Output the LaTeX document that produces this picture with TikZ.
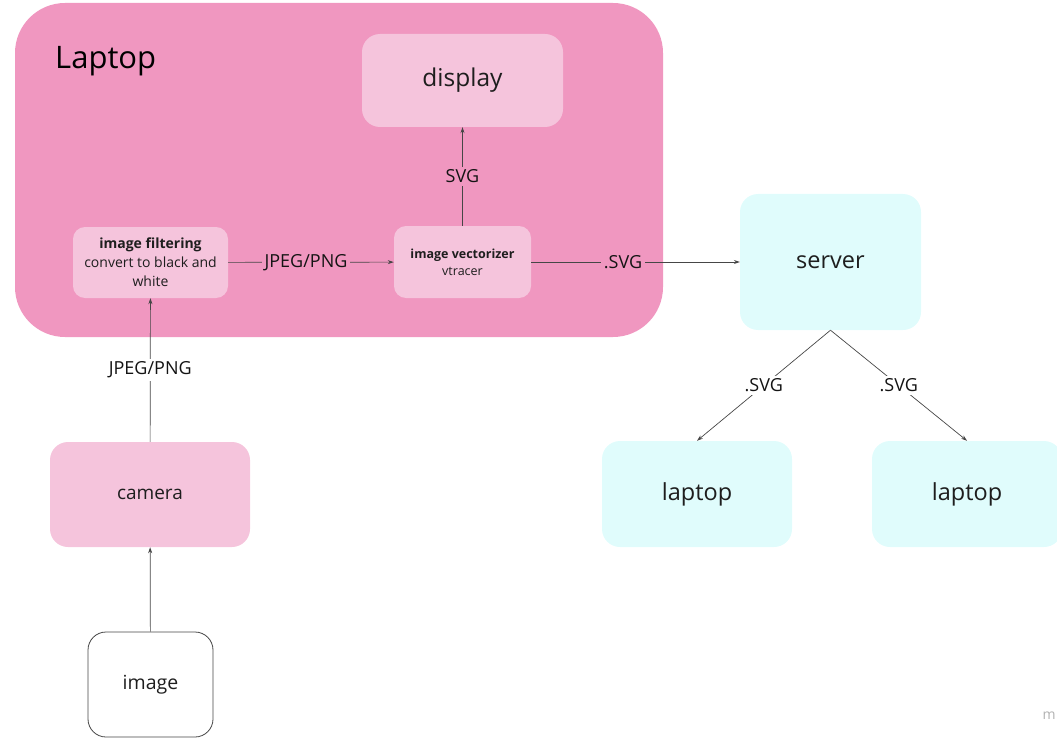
\documentclass[tikz,border=0pt]{standalone}
\usepackage{fontspec}
\setmainfont{Open Sans}
\usetikzlibrary{arrows.meta}

\definecolor{zonepink}{RGB}{240,151,192}
\definecolor{boxpink}{RGB}{245,196,220}
\definecolor{boxcyan}{RGB}{224,252,252}
\definecolor{linegray}{RGB}{70,70,70}

\begin{document}
\begin{tikzpicture}[x=1pt,y=1pt,yscale=-1,
  box/.style={rectangle,rounded corners=18pt,inner sep=0pt,align=center,text={rgb,255:red,30;green,30;blue,30}},
  conn/.style={draw=linegray,line width=0.7pt,-{Stealth[length=6pt,width=4pt]}},
  lbl/.style={inner sep=3pt,font=\fontsize{18}{21}\selectfont,text={rgb,255:red,20;green,20;blue,20}}]
\useasboundingbox (0,0) rectangle (1057,738);

%Laptop area
\node [box, rounded corners=50pt, fill=zonepink, minimum width=648pt, minimum height=334pt] (zone) at (339,170) {};
\node [anchor=west, inner sep=0pt, font=\fontsize{31}{36}\selectfont] (zonetitle) at (55,61) {Laptop};

%Rounded Rect
\node [box, fill=boxpink, minimum width=201pt, minimum height=93pt, font=\fontsize{24.5}{29}\selectfont] (display) at (462.5,80.5) {display};
\node [box, rounded corners=12pt, fill=boxpink, minimum width=155pt, minimum height=71pt, font=\fontsize{14}{19}\selectfont] (filter) at (150.5,262.5) {\textbf{image filtering}\\convert to black and\\white};
\node [box, rounded corners=12pt, fill=boxpink, minimum width=137pt, minimum height=72pt, font=\fontsize{12.5}{17}\selectfont] (vector) at (462.5,262) {\textbf{image vectorizer}\\vtracer};
\node [box, fill=boxpink, minimum width=200pt, minimum height=105pt, font=\fontsize{19}{23}\selectfont] (camera) at (150,494.5) {camera};
\node [box, draw=linegray, line width=0.8pt, fill=white, minimum width=125pt, minimum height=105pt, font=\fontsize{19.5}{23}\selectfont] (image) at (150.5,684.5) {image};

\node [box, fill=boxcyan, minimum width=181pt, minimum height=136pt, font=\fontsize{23.5}{28}\selectfont] (server) at (830.5,262) {server};
\node [box, fill=boxcyan, minimum width=190pt, minimum height=106pt, font=\fontsize{23.5}{28}\selectfont] (laptopa) at (697,494) {laptop};
\node [box, fill=boxcyan, minimum width=190pt, minimum height=106pt, font=\fontsize{23.5}{28}\selectfont] (laptopb) at (967,494) {laptop};

%Connectors
\draw [conn] (image) -- (camera);
\draw [conn] (camera) -- node [lbl, fill=white] {JPEG/PNG} (filter);
\draw [conn] (filter) -- node [lbl, fill=zonepink, pos=0.47] {JPEG/PNG} (vector);
\draw [conn] (vector) -- node [lbl, fill=zonepink] {SVG} (display);
\draw [conn] (vector) -- node [lbl, fill=zonepink, pos=0.44] {.SVG} (server);
\draw [conn] (server.south) -- node [lbl, fill=white] {.SVG} (laptopa.north);
\draw [conn] (server.south) -- node [lbl, fill=white] {.SVG} (laptopb.north);

% Text Node
\node [text=black!30, font=\fontsize{14}{16}\selectfont] (mark) at (1049,716) {m};
\end{tikzpicture}
\end{document}
